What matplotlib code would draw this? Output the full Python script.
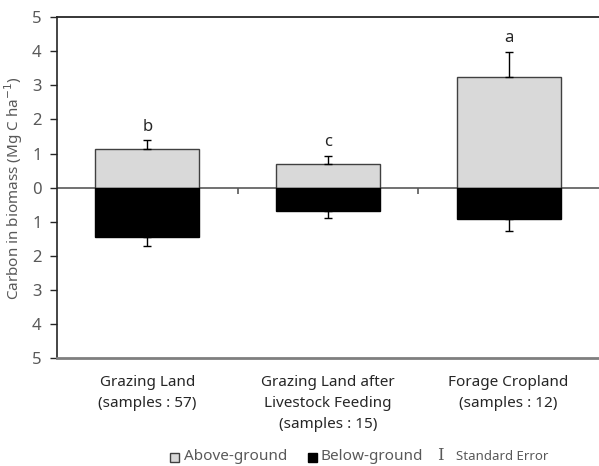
import numpy as np
import matplotlib
matplotlib.use("Agg")
import matplotlib.pyplot as plt
from matplotlib.patches import Rectangle

plt.rcParams['font.family'] = ['Noto Sans', 'DejaVu Sans']

categories = ["Grazing Land\n(samples : 57)",
              "Grazing Land after\nLivestock Feeding\n(samples : 15)",
              "Forage Cropland\n(samples : 12)"]
above = [1.13, 0.70, 3.25]
above_se = [0.26, 0.24, 0.73]
below = [1.45, 0.67, 0.93]
below_se = [0.25, 0.21, 0.33]
letters = ["b", "c", "a"]
yticks = [-5, -4, -3, -2, -1, 0, 1, 2, 3, 4, 5]

grey_text = "#595959"

fig = plt.figure(figsize=(5.99, 4.66), dpi=100)
ax = fig.add_axes([57 / 599, 1 - 358.3 / 466, 1 - 57 / 599, (358.3 - 17) / 466])

x = np.arange(len(categories))
width = 0.575
above_arr = np.array(above)
below_arr = -np.array(below)

ax.bar(x, above_arr, width, color="#d9d9d9", edgecolor="#404040", linewidth=1.0, zorder=2)
ax.bar(x, below_arr, width, color="black", edgecolor="black", linewidth=1.0, zorder=2)

# one-sided standard error bars
ax.errorbar(x, above_arr, yerr=[np.zeros(len(x)), above_se], fmt="none",
            ecolor="black", elinewidth=1.0, capsize=3, capthick=1.0, zorder=3)
ax.errorbar(x, below_arr, yerr=[below_se, np.zeros(len(x))], fmt="none",
            ecolor="black", elinewidth=1.0, capsize=3, capthick=1.0, zorder=3)

for xi, top, se, lab in zip(x, above, above_se, letters):
    ax.annotate(lab, (xi, top + se), xytext=(0, 4), textcoords="offset points",
                ha="center", va="bottom", fontsize=12, color="#262626")

ax.set_xlim(-0.5, len(categories) - 0.5)
ax.set_ylim(-5, 5)

# zero line with small separators between categories
ax.axhline(0, color="#595959", linewidth=1.2, zorder=1)
ax.vlines(x[:-1] + 0.5, -0.2, 0, color="#595959", linewidth=1.2, zorder=1)

ax.set_yticks(yticks)
ax.set_yticklabels([str(abs(v)) for v in yticks], color=grey_text, fontsize=12)
ax.tick_params(axis="y", direction="out", length=5, width=1.0, color="#262626", pad=6)
ax.set_xticks([])
ax.set_ylabel("Carbon in biomass (Mg C ha$^{-1}$)", color=grey_text, fontsize=11, labelpad=5)

for xi, lab in zip(x, categories):
    ax.annotate(lab, (xi, 0), xycoords=("data", "axes fraction"), xytext=(0, -12),
                textcoords="offset points", ha="center", va="top", fontsize=11,
                color="#262626", linespacing=1.55)

ax.spines["right"].set_visible(False)
ax.spines["top"].set_color("#262626")
ax.spines["top"].set_linewidth(1.3)
ax.spines["left"].set_color("#262626")
ax.spines["left"].set_linewidth(1.2)
ax.spines["bottom"].set_color("#7f7f7f")
ax.spines["bottom"].set_linewidth(2.0)

# legend row
ly = 1 - 457 / 466
fig.patches.append(Rectangle((170 / 599, ly - 4.5 / 466), 9 / 599, 9 / 466,
                             transform=fig.transFigure, facecolor="#d9d9d9",
                             edgecolor="#404040", linewidth=1.0))
fig.text(184 / 599, ly, "Above-ground", fontsize=11, color=grey_text, va="center")
fig.patches.append(Rectangle((308 / 599, ly - 4.5 / 466), 9 / 599, 9 / 466,
                             transform=fig.transFigure, facecolor="black",
                             edgecolor="black", linewidth=1.0))
fig.text(321 / 599, ly, "Below-ground", fontsize=11, color=grey_text, va="center")
fig.text(437 / 599, ly + 2 / 466, "I", fontsize=12, color=grey_text, va="center",
         family="DejaVu Serif")
fig.text(456 / 599, ly, "Standard Error", fontsize=9.5, color=grey_text, va="center")

fig.savefig("out.png", dpi=100)
